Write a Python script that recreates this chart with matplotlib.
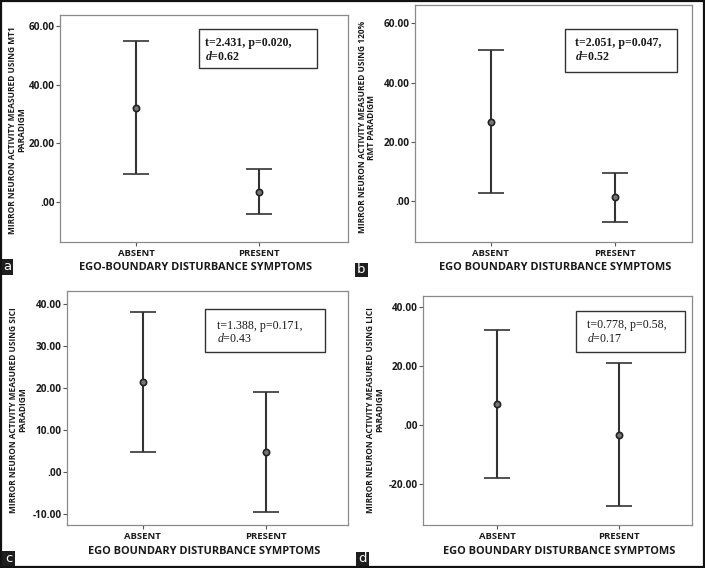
import matplotlib
matplotlib.use("Agg")
import matplotlib.pyplot as plt
from matplotlib.patches import Rectangle
from matplotlib.ticker import FixedLocator, FuncFormatter

plt.rcParams['mathtext.fontset'] = 'custom'
plt.rcParams['mathtext.rm'] = 'Liberation Serif'
plt.rcParams['mathtext.it'] = 'Liberation Serif:italic'
plt.rcParams['mathtext.bf'] = 'Liberation Serif:bold'
plt.rcParams['mathtext.bfit'] = 'Liberation Serif:italic:bold'

# ---------------- data ----------------
categories = ["ABSENT", "PRESENT"]

mt1_mean = [32.0, 3.5]
mt1_low = [9.5, -4.0]
mt1_high = [54.8, 11.1]

rmt_mean = [26.8, 1.3]
rmt_low = [2.7, -7.0]
rmt_high = [50.9, 9.5]

sici_mean = [21.5, 4.7]
sici_low = [4.8, -9.7]
sici_high = [38.2, 19.1]

lici_mean = [7.1, -3.2]
lici_low = [-17.8, -27.4]
lici_high = [32.3, 21.1]

ticks_ab = [0, 20, 40, 60]
ticks_c = [-10, 0, 10, 20, 30, 40]
ticks_d = [-20, 0, 20, 40]

ylabels = [
    "MIRROR NEURON ACTIVITY MEASURED USING MT1\nPARADIGM",
    "MIRROR NEURON ACTIVITY MEASURED USING 120%\nRMT PARADIGM",
    "MIRROR NEURON ACTIVITY MEASURED USING SICI\nPARADIGM",
    "MIRROR NEURON ACTIVITY MEASURED USING LICI\nPARADIGM",
]
xlabels = [
    "EGO-BOUNDARY DISTURBANCE SYMPTOMS",
    "EGO BOUNDARY DISTURBANCE SYMPTOMS",
    "EGO BOUNDARY DISTURBANCE SYMPTOMS",
    "EGO BOUNDARY DISTURBANCE SYMPTOMS",
]
stat_line1 = ["t=2.431, p=0.020,", "t=2.051, p=0.047,", "t=1.388, p=0.171,", "t=0.778, p=0.58,"]
stat_line2 = [r"$\mathbfit{d}$=0.62", r"$\mathbfit{d}$=0.52", r"$\mathit{d}$=0.43", r"$\mathit{d}$=0.17"]
stat_bold = [True, True, False, False]
letters = ["a", "b", "c", "d"]

# ---------------- layout (pixels) ----------------
W, H = 705, 568
fig = plt.figure(figsize=(W / 100, H / 100), dpi=100)
fig.patch.set_facecolor("white")

SANS = "Open Sans"

def fx(px):
    return px / W

def fy(py):
    return 1 - py / H

panels = [
    dict(box=(60, 348, 15, 242), xlim=(-0.62, 1.72), ylim=(-13.6, 63.7), ticks=ticks_ab,
         mean=mt1_mean, low=mt1_low, high=mt1_high,
         ylab=(17, 130), xlab=(196, 267), sbox=(199, 317, 29, 68), stext=(205, 43, 57),
         letter=(2, 259, 13, 275)),
    dict(box=(415, 692, 5, 242), xlim=(-0.61, 1.62), ylim=(-13.9, 66.2), ticks=ticks_ab,
         mean=rmt_mean, low=rmt_low, high=rmt_high,
         ylab=(367, 127), xlab=(555, 267), sbox=(565, 677, 29, 72), stext=(575, 43, 56),
         letter=(355, 263, 368, 277)),
    dict(box=(67, 348, 291, 525), xlim=(-0.614, 1.665), ylim=(-12.7, 43.1), ticks=ticks_c,
         mean=sici_mean, low=sici_low, high=sici_high,
         ylab=(18, 410), xlab=(204, 551), sbox=(205, 325, 309, 352), stext=(217, 326, 339),
         letter=(2, 551, 15, 566)),
    dict(box=(423, 692, 296, 525), xlim=(-0.607, 1.6), ylim=(-33.8, 43.7), ticks=ticks_d,
         mean=lici_mean, low=lici_low, high=lici_high,
         ylab=(375, 410), xlab=(559, 551), sbox=(576, 685, 311, 352), stext=(587, 325, 339),
         letter=(356, 552, 369, 566)),
]

def fmt(v, pos=None):
    s = f"{v:.2f}"
    if s in ("0.00", "-0.00"):
        return ".00"
    return s

line_col = "#333333"
spine_col = "#8a8a8a"
text_col = "#1a1a1a"

for i, p in enumerate(panels):
    l, r, t, b = p["box"]
    ax = fig.add_axes([fx(l), fy(b), fx(r) - fx(l), fy(t) - fy(b)])
    xs = [0, 1]
    mean = p["mean"]
    yerr = [[m - lo for m, lo in zip(mean, p["low"])],
            [hi - m for m, hi in zip(mean, p["high"])]]
    ax.errorbar(xs, mean, yerr=yerr, fmt="o", color=line_col, ecolor=line_col,
                elinewidth=1.5, capsize=9.7, capthick=1.5, markersize=4.5,
                markerfacecolor="#777777", markeredgecolor="#222222", markeredgewidth=1.2)
    ax.set_xlim(*p["xlim"])
    ax.set_ylim(*p["ylim"])
    ax.set_xticks(xs)
    ax.set_xticklabels(categories, fontfamily=SANS, fontweight="bold", fontsize=6.8, color=text_col)
    ax.yaxis.set_major_locator(FixedLocator(p["ticks"]))
    ax.yaxis.set_major_formatter(FuncFormatter(fmt))
    for lab in ax.get_yticklabels():
        lab.set_fontfamily(SANS)
        lab.set_fontweight("bold")
        lab.set_fontsize(7.2)
        lab.set_color(text_col)
    ax.tick_params(axis="y", direction="out", length=3, width=0.8, color="#555555", pad=1)
    ax.tick_params(axis="x", direction="out", length=3, width=0.8, color="#555555", pad=2)
    for s in ax.spines.values():
        s.set_color(spine_col)
        s.set_linewidth(0.9)

    # axis titles
    yx, yy = p["ylab"]
    fig.text(fx(yx), fy(yy), ylabels[i], rotation=90, ha="center", va="center",
             fontfamily=SANS, fontweight="bold", fontsize=6.0, linespacing=0.95,
             multialignment="center", color=text_col)
    xx, xy = p["xlab"]
    fig.text(fx(xx), fy(xy), xlabels[i], ha="center", va="center",
             fontfamily=SANS, fontweight="bold", fontsize=7.9, color=text_col)

    # stats box
    bl, br, bt, bb = p["sbox"]
    fig.patches.append(Rectangle((fx(bl), fy(bb)), fx(br) - fx(bl), fy(bt) - fy(bb),
                                 transform=fig.transFigure, fill=False,
                                 edgecolor="#333333", linewidth=1.0))
    tx, ty1, ty2 = p["stext"]
    wt = "bold" if stat_bold[i] else "normal"
    fig.text(fx(tx), fy(ty1), stat_line1[i], ha="left", va="center",
             fontfamily="Liberation Serif", fontweight=wt, fontsize=8.6, color=text_col)
    fig.text(fx(tx), fy(ty2), stat_line2[i], ha="left", va="center",
             fontfamily="Liberation Serif", fontweight=wt, fontsize=8.6, color=text_col)

    # panel letter
    ll, lt, lr, lb = p["letter"]
    fig.patches.append(Rectangle((fx(ll), fy(lb)), fx(lr) - fx(ll), fy(lt) - fy(lb),
                                 transform=fig.transFigure, facecolor="#1e1e1e",
                                 edgecolor="none"))
    fig.text(fx((ll + lr) / 2), fy((lt + lb) / 2), letters[i], ha="center", va="center",
             fontfamily="DejaVu Sans", fontsize=9.5, color="white")

# outer frame
fig.patches.append(Rectangle((0.001, 0.0015), 0.998, 0.997, transform=fig.transFigure,
                             fill=False, edgecolor="#111111", linewidth=1.6))

fig.savefig("out.png", dpi=100)
